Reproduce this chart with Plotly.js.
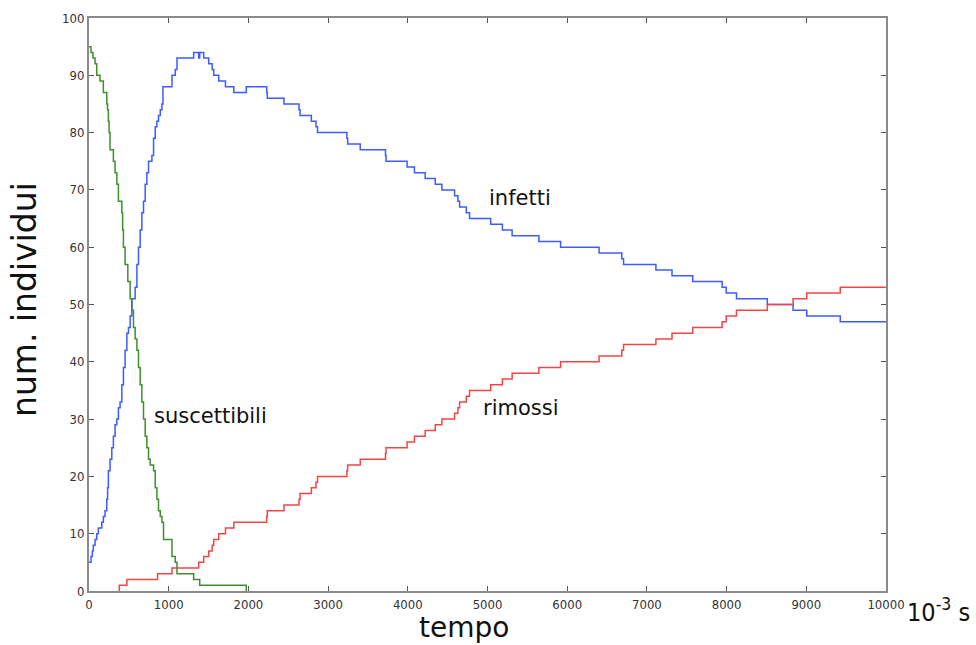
<!DOCTYPE html>
<html>
<head>
<meta charset="utf-8">
<script src="https://cdn.plot.ly/plotly-3.0.1.min.js"></script>
<style>html,body{margin:0;padding:0;background:#fff;}#chart{width:976px;height:645px;}</style>
</head>
<body>
<div id="chart"></div>
<script>
// Susceptible (suscettibili)
const tS = [0, 25, 50, 76, 97, 138, 180, 223, 233, 243, 252, 264, 306, 327, 349, 369, 412, 422, 432, 453, 487, 516, 538, 558, 579, 601, 621, 642, 663, 684, 705, 726, 747, 768, 810, 831, 852, 872, 894, 915, 935, 1041, 1082, 1104, 1313, 1389, 1973];
const vS = [95, 94, 93, 92, 90, 89, 87, 85, 84, 82, 80, 77, 75, 73, 71, 68, 66, 63, 60, 57, 54, 51, 49, 46, 44, 42, 39, 36, 33, 30, 27, 25, 23, 22, 21, 18, 16, 14, 13, 12, 9, 6, 5, 3, 2, 1, 0];

// Infected (infetti)
const tI = [0, 25, 42, 54, 76, 97, 117, 160, 180, 201, 223, 233, 243, 264, 286, 306, 327, 349, 369, 390, 412, 432, 453, 475, 495, 516, 538, 579, 601, 621, 642, 663, 684, 705, 726, 747, 789, 810, 831, 852, 872, 894, 915, 928, 1041, 1082, 1104, 1313, 1376, 1389, 1439, 1502, 1545, 1565, 1628, 1712, 1817, 1973, 2230, 2237, 2446, 2635, 2648, 2790, 2848, 2867, 3236, 3245, 3403, 3720, 3727, 3991, 4083, 4218, 4344, 4428, 4587, 4629, 4650, 4734, 4775, 5040, 5187, 5309, 5644, 5917, 6400, 6685, 6707, 7113, 7315, 7575, 7944, 7995, 8124, 8511, 8834, 9006, 9426, 10000];
const vI = [5, 6, 7, 8, 9, 10, 11, 12, 13, 14, 16, 18, 21, 23, 25, 27, 29, 30, 32, 33, 36, 39, 42, 45, 46, 48, 51, 53, 57, 60, 63, 66, 68, 71, 73, 75, 76, 79, 81, 82, 83, 84, 85, 88, 90, 91, 93, 94, 93, 94, 93, 92, 91, 90, 89, 88, 87, 88, 87, 86, 85, 84, 83, 82, 81, 80, 79, 78, 77, 76, 75, 74, 73, 72, 71, 70, 69, 68, 67, 66, 65, 64, 63, 62, 61, 60, 59, 58, 57, 56, 55, 54, 53, 52, 51, 50, 49, 48, 47, 47];

// Removed (rimossi)
const tR = [380, 380, 475, 860, 1041, 1376, 1439, 1502, 1545, 1565, 1628, 1712, 1817, 2230, 2237, 2446, 2635, 2648, 2790, 2848, 2867, 3236, 3245, 3403, 3720, 3727, 3991, 4083, 4218, 4344, 4428, 4587, 4629, 4650, 4734, 4775, 5040, 5187, 5309, 5644, 5917, 6400, 6685, 6707, 7113, 7315, 7575, 7944, 7995, 8124, 8511, 8834, 9006, 9426, 10000];
const vR = [0, 1, 2, 3, 4, 5, 6, 7, 8, 9, 10, 11, 12, 13, 14, 15, 16, 17, 18, 19, 20, 21, 22, 23, 24, 25, 26, 27, 28, 29, 30, 31, 32, 33, 34, 35, 36, 37, 38, 39, 40, 41, 42, 43, 44, 45, 46, 47, 48, 49, 50, 51, 52, 53, 53];

const xTicks = [0, 1000, 2000, 3000, 4000, 5000, 6000, 7000, 8000, 9000, 10000];
const yTicks = [0, 10, 20, 30, 40, 50, 60, 70, 80, 90, 100];

const labelFont = {family: 'DejaVu Sans, sans-serif', size: 21, color: '#111'};

const traces = [
  {x: tI, y: vI, mode: 'lines', line: {shape: 'hv', color: '#3c5cff', width: 1.5}, name: 'infetti'},
  {x: tR, y: vR, mode: 'lines', line: {shape: 'hv', color: '#f24646', width: 1.5}, name: 'rimossi'},
  {x: tS, y: vS, mode: 'lines', line: {shape: 'hv', color: '#3f8f2c', width: 1.5}, name: 'suscettibili'}
];

const axisCommon = {
  showgrid: false, zeroline: false, showline: true, linecolor: '#8a8a8a', linewidth: 2,
  mirror: 'allticks', ticks: 'inside', ticklen: 5, tickwidth: 1, tickcolor: '#555',
  tickfont: {family: 'Liberation Sans Narrow, DejaVu Sans Condensed, sans-serif', size: 13, color: '#333'}
};

const W = 976, H = 645, ML = 89, MR = 90, MT = 18, MB = 54;
const px = v => (v - ML) / (W - ML - MR);
const py = v => (H - MB - v) / (H - MB - MT);

const layout = {
  width: W, height: H,
  margin: {l: ML, r: MR, t: MT, b: MB},
  paper_bgcolor: '#fff', plot_bgcolor: '#fff',
  showlegend: false,
  xaxis: Object.assign({}, axisCommon, {
    range: [0, 10000], tickmode: 'array', tickvals: xTicks, ticktext: xTicks.map(String)
  }),
  yaxis: Object.assign({}, axisCommon, {
    range: [0, 100], tickmode: 'array', tickvals: yTicks, ticktext: yTicks.map(String)
  }),
  annotations: [
    {x: 4990, y: 68.6, xref: 'x', yref: 'y', text: 'infetti', showarrow: false, xanchor: 'left', font: labelFont},
    {x: 4920, y: 31.9, xref: 'x', yref: 'y', text: 'rimossi', showarrow: false, xanchor: 'left', font: labelFont},
    {x: 790, y: 30.5, xref: 'x', yref: 'y', text: 'suscettibili', showarrow: false, xanchor: 'left', font: labelFont},
    {x: px(905), y: py(610), xref: 'paper', yref: 'paper', xanchor: 'left', yanchor: 'middle', showarrow: false,
     text: '10<sup>-3</sup> s', font: {family: 'DejaVu Sans Condensed, DejaVu Sans, sans-serif', size: 25, color: '#111'}},
    {x: px(464), y: py(627), xref: 'paper', yref: 'paper', xanchor: 'center', yanchor: 'middle', showarrow: false, borderpad: 0,
     text: 'tempo', font: {family: 'DejaVu Sans, sans-serif', size: 28, color: '#111'}},
    {x: px(24), y: py(300), xref: 'paper', yref: 'paper', xanchor: 'center', yanchor: 'middle', showarrow: false, textangle: -90,
     text: 'num. individui', font: {family: 'DejaVu Sans, sans-serif', size: 33, color: '#111'}}
  ]
};

Plotly.newPlot('chart', traces, layout, {displayModeBar: false, staticPlot: true});
</script>
</body>
</html>
